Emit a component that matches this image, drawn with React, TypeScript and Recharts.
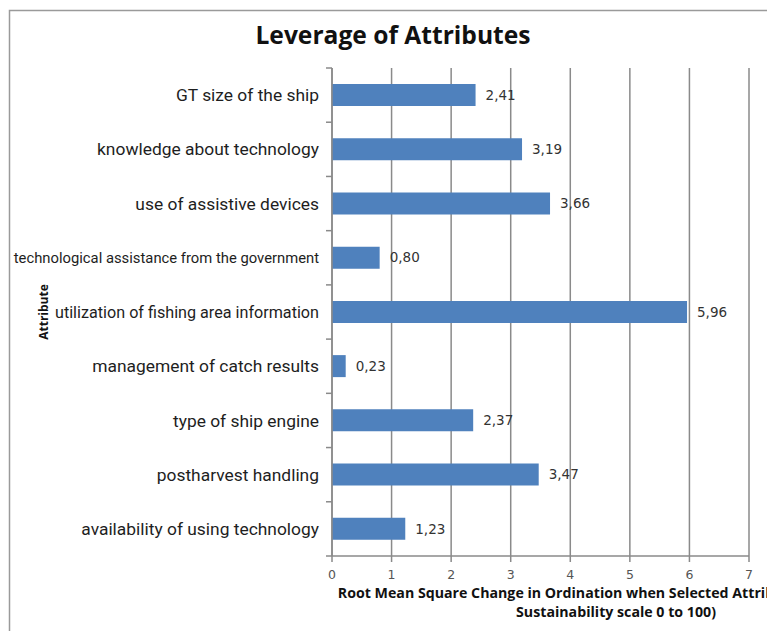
import React from 'react';
import { BarChart, Bar, XAxis, YAxis, CartesianGrid, LabelList } from 'recharts';

const attributes = [
  'GT size of the ship',
  'knowledge about technology',
  'use of assistive devices',
  'technological assistance from the government',
  'utilization of fishing area information',
  'management of catch results',
  'type of ship engine',
  'postharvest handling',
  'availability of using technology',
];
const rmsValues = [2.41, 3.19, 3.66, 0.8, 5.96, 0.23, 2.37, 3.47, 1.23];
const xTicks = [0, 1, 2, 3, 4, 5, 6, 7];

const data = attributes.map((name, i) => ({ name, value: rmsValues[i] }));

const W = 767;
const H = 631;
const M_TOP = 68;
const M_RIGHT = 18;
const Y_AXIS_W = 332;
const X_AXIS_H = 75;
const PLOT_H = H - M_TOP - X_AXIS_H;
const BAND = PLOT_H / attributes.length;
const GRID = '#8a8a8a';
const LABEL_FONT = "Roboto, 'Noto Sans', sans-serif";
const LABEL_SIZE = 17.4;
const SMALL_LABEL_SIZE = 14.8;
const LABEL_MAX_W = 264;

const fmt = (v: number) => v.toFixed(2).replace('.', ',');

let measureCtx: CanvasRenderingContext2D | null = null;
const measure = (text: string, size: number) => {
  if (typeof document === 'undefined') return 0;
  if (!measureCtx) measureCtx = document.createElement('canvas').getContext('2d');
  if (!measureCtx) return 0;
  measureCtx.font = `${size}px Roboto`;
  return measureCtx.measureText(text).width;
};

const CategoryTick = (props: any) => {
  const { x, y, payload, index } = props;
  const axisX = Y_AXIS_W;
  const text = String(payload.value);
  const long = text.length > 40;
  const size = long ? SMALL_LABEL_SIZE : LABEL_SIZE;
  const w = long ? 0 : measure(text, size);
  const squeeze = w > LABEL_MAX_W;
  return (
    <g>
      <line x1={axisX - 6} x2={axisX} y1={y - BAND / 2} y2={y - BAND / 2} stroke={GRID} strokeWidth={1.5} />
      {index === attributes.length - 1 && (
        <line x1={axisX - 6} x2={axisX} y1={y + BAND / 2} y2={y + BAND / 2} stroke={GRID} strokeWidth={1.5} />
      )}
      <text
        x={x}
        y={y}
        dy="0.35em"
        textAnchor="end"
        fill="#1e1e1e"
        fontFamily={LABEL_FONT}
        fontSize={size}
        {...(squeeze ? { textLength: LABEL_MAX_W, lengthAdjust: 'spacingAndGlyphs' } : {})}
      >
        {text}
      </text>
    </g>
  );
};

const AxisTitle = () => {
  return (
    <text
      textAnchor="middle"
      fontFamily="'Open Sans', sans-serif"
      fontWeight={700}
      fontSize={14.2}
      fill="#111"
    >
      <tspan x={616} y={598}>Root Mean Square Change in Ordination when Selected Attribute Removed (on</tspan>
      <tspan x={616} y={617}>Sustainability scale 0 to 100)</tspan>
    </text>
  );
};

export default function App() {
  return (
    <div style={{ position: 'absolute', left: 0, top: 0, width: W, height: H, background: '#fff' }}>
      <BarChart
        width={W}
        height={H}
        data={data}
        layout="vertical"
        margin={{ top: M_TOP, right: M_RIGHT, left: 0, bottom: 0 }}
      >
        <rect x={9.5} y={10.5} width={W + 20} height={H + 20} fill="none" stroke="#9a9a9a" strokeWidth={1.5} />
        <text
          x={393}
          y={44}
          textAnchor="middle"
          fontFamily="'Open Sans', sans-serif"
          fontWeight={700}
          fontSize={24.6}
          fill="#111"
        >
          Leverage of Attributes
        </text>
        <text
          x={0}
          y={0}
          transform="translate(47.5, 312) rotate(-90)"
          textAnchor="middle"
          fontFamily="'Open Sans', sans-serif"
          fontWeight={700}
          fontSize={12}
          fill="#111"
        >
          Attribute
        </text>
        <CartesianGrid horizontal={false} vertical stroke={GRID} strokeWidth={1.5} />
        <XAxis
          type="number"
          domain={[0, 7]}
          ticks={xTicks}
          interval={0}
          height={X_AXIS_H}
          axisLine={{ stroke: GRID, strokeWidth: 1.5 }}
          tickLine={{ stroke: GRID, strokeWidth: 1.5 }}
          tickSize={6}
          tickMargin={8}
          tick={{ fill: '#555', fontFamily: "'DejaVu Sans', sans-serif", fontSize: 12.5 }}
          label={<AxisTitle />}
        />
        <YAxis
          type="category"
          dataKey="name"
          width={Y_AXIS_W}
          axisLine={{ stroke: GRID, strokeWidth: 1.5 }}
          tickLine={false}
          tickSize={0}
          tickMargin={13}
          interval={0}
          tick={<CategoryTick />}
        />
        <Bar dataKey="value" fill="#4f81bd" barSize={22} isAnimationActive={false}>
          <LabelList
            dataKey="value"
            position="right"
            offset={10}
            formatter={(v: any) => fmt(Number(v))}
            style={{ fill: '#333', fontFamily: "'DejaVu Sans', sans-serif", fontSize: 13.5 }}
          />
        </Bar>
      </BarChart>
    </div>
  );
}
